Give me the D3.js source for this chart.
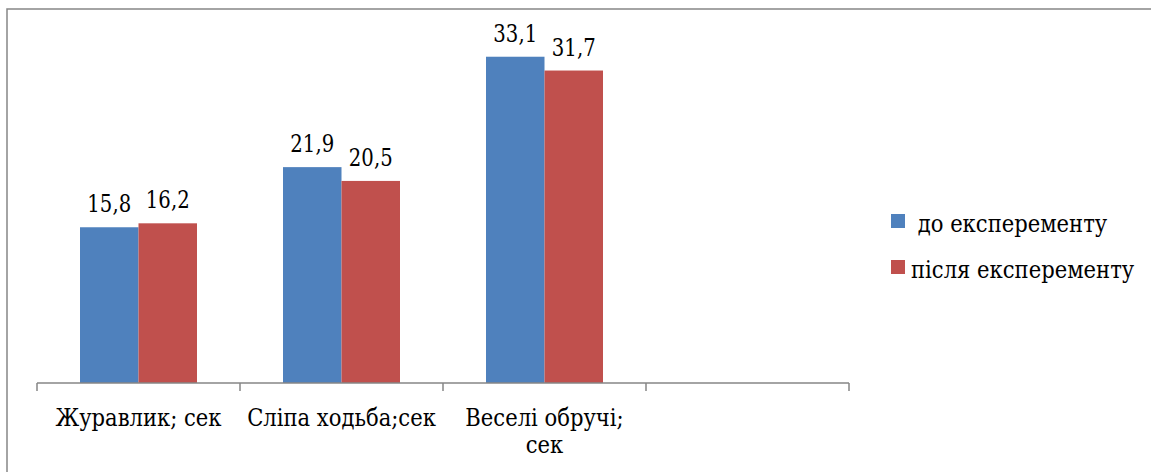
<!DOCTYPE html>
<html>
<head>
<meta charset="utf-8">
<script src="https://cdn.jsdelivr.net/npm/d3@7"></script>
<style>
  html, body { margin: 0; padding: 0; background: #fff; }
  svg text { font-family: "DejaVu Serif"; fill: #000; }
</style>
</head>
<body>
<svg id="chart" width="1151" height="472"></svg>
<script>
// Exercise results (seconds), before and after the experiment
const categories = ["Журавлик; сек", "Сліпа ходьба;сек", "Веселі обручі; сек", ""];
const seriesNames = [" до експеременту", "після експеременту"];
const before = [15.8, 21.9, 33.1, null];
const after = [16.2, 20.5, 31.7, null];
const seriesColors = ["#4F81BD", "#C0504D"];

const svg = d3.select("#chart");
const fontSize = 24;
const numSqueeze = 0.82;   // horizontal condensing of the serif face for numbers
const textSqueeze = 0.88;  // and for words

// Places a text at (x, y) with the condensed serif look
function place(sel, fx, fy, sx) {
  sel.attr("transform", (d, i) => `translate(${fx(d, i)},${fy(d, i)}) scale(${sx},1)`)
    .attr("font-size", fontSize);
}

// Outer frame
svg.append("rect")
  .attr("x", 7).attr("y", 9)
  .attr("width", 1160).attr("height", 480)
  .attr("fill", "none")
  .attr("stroke", "#868686")
  .attr("stroke-width", 1.5);

const x0 = d3.scaleBand().domain(categories).range([37, 849]);
const x1 = d3.scaleBand().domain(seriesNames).range([0, x0.bandwidth()]).paddingOuter(0.735);
const y = d3.scaleLinear().domain([0, 35]).range([383, 38]);

const rows = categories.map((c, i) => ({ cat: c, vals: [before[i], after[i]] }));

const groups = svg.append("g").selectAll("g")
  .data(rows)
  .join("g")
  .attr("transform", d => `translate(${x0(d.cat)},0)`);

const cells = groups.selectAll("g.cell")
  .data(d => d.vals.map((v, k) => ({ v, k })).filter(e => e.v !== null))
  .join("g").attr("class", "cell");

cells.append("rect")
  .attr("x", d => x1(seriesNames[d.k]))
  .attr("width", x1.bandwidth())
  .attr("y", d => y(d.v))
  .attr("height", d => y(0) - y(d.v))
  .attr("fill", d => seriesColors[d.k]);

cells.append("text")
  .attr("text-anchor", "middle")
  .call(place, d => x1(seriesNames[d.k]) + x1.bandwidth() / 2, d => y(d.v) - 15, numSqueeze)
  .text(d => d3.format(".1f")(d.v).replace(".", ","));

// Category axis with ticks on band boundaries
const axis = svg.append("g").attr("stroke", "#868686").attr("stroke-width", 1.5).attr("fill", "none");
const [ax0, ax1] = x0.range();
axis.append("line").attr("x1", ax0).attr("x2", ax1).attr("y1", y(0)).attr("y2", y(0));
const edges = categories.map(c => x0(c)).concat([ax1]);
axis.selectAll("line.tick").data(edges).join("line").attr("class", "tick")
  .attr("x1", d => d).attr("x2", d => d)
  .attr("y1", y(0)).attr("y2", y(0) + 8);

// Category labels, wrapped to band width
const labels = svg.append("g").selectAll("text")
  .data(categories.filter(c => c !== ""))
  .join("text")
  .attr("text-anchor", "middle")
  .call(place, d => x0(d) + x0.bandwidth() / 2, () => 426, textSqueeze);

labels.each(function(d) {
  const t = d3.select(this);
  const words = d.split(" ");
  const maxW = (x0.bandwidth() - 10) / textSqueeze;
  let line = [];
  let tspan = t.append("tspan").attr("x", 0).attr("dy", 0);
  words.forEach(w => {
    line.push(w);
    tspan.text(line.join(" "));
    if (tspan.node().getComputedTextLength() > maxW && line.length > 1) {
      line.pop();
      tspan.text(line.join(" "));
      line = [w];
      tspan = t.append("tspan").attr("x", 0).attr("dy", 27).text(w);
    }
  });
});

// Legend
const legend = svg.append("g").selectAll("g")
  .data(seriesNames)
  .join("g")
  .attr("transform", (d, i) => `translate(891,${214 + i * 46})`);
legend.append("rect").attr("width", 14).attr("height", 14).attr("fill", (d, i) => seriesColors[i]);
legend.append("text")
  .attr("xml:space", "preserve")
  .style("white-space", "pre")
  .call(place, () => 20, () => 17.5, textSqueeze)
  .text(d => d);
</script>
</body>
</html>
